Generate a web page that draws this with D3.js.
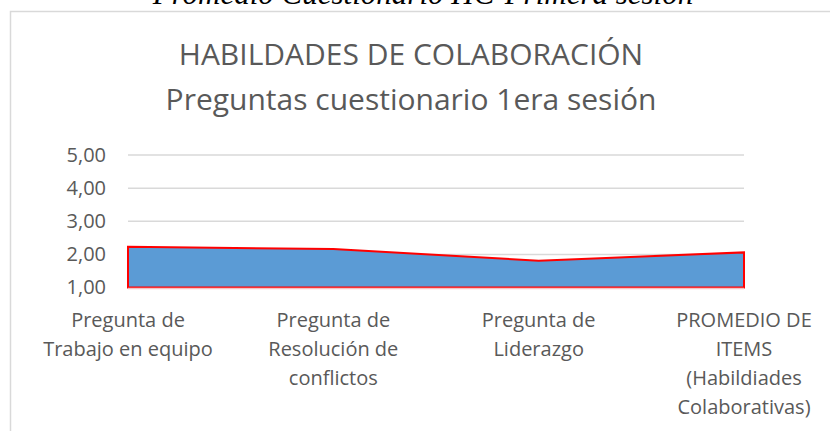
<!DOCTYPE html>
<html>
<head>
<meta charset="utf-8">
<script src="https://cdn.jsdelivr.net/npm/d3@7"></script>
<style>
  body { margin: 0; background: #fff; }
  svg { display: block; }
</style>
</head>
<body>
<svg id="chart" width="830" height="431"></svg>
<script>
// chart data
const categories = [
  ["Pregunta de", "Trabajo en equipo"],
  ["Pregunta de", "Resolución de", "conflictos"],
  ["Pregunta de", "Liderazgo"],
  ["PROMEDIO DE", "ITEMS", "(Habildiades", "Colaborativas)"]
];
const values = [2.23, 2.16, 1.81, 2.06];
const yTicks = [1, 2, 3, 4, 5];
const titleLines = ["HABILDADES DE COLABORACIÓN", "Preguntas cuestionario 1era sesión"];
const caption = "Promedio Cuestionario HC-Primera sesión";

const margin = { top: 155, right: 86, bottom: 143.5, left: 128 };
const W = 830, H = 431;
const width = W - margin.left - margin.right;
const height = H - margin.top - margin.bottom;

const svg = d3.select("#chart");

// caption above the chart frame (cut off at the top)
svg.append("text")
  .attr("x", 423)
  .attr("y", 4)
  .attr("text-anchor", "middle")
  .attr("font-family", "Liberation Serif")
  .attr("font-style", "italic")
  .attr("font-size", 31)
  .attr("fill", "#000")
  .text(caption);

// chart frame
svg.append("rect")
  .attr("x", 10.5)
  .attr("y", 11.5)
  .attr("width", 900)
  .attr("height", 500)
  .attr("fill", "none")
  .attr("stroke", "#d9d9d9")
  .attr("stroke-width", 1.5);

// title
svg.append("text")
  .attr("x", 411)
  .attr("text-anchor", "middle")
  .attr("font-family", "Open Sans")
  .attr("font-size", 30)
  .attr("fill", "#595959")
  .selectAll("tspan")
  .data(titleLines)
  .join("tspan")
  .attr("x", 411)
  .attr("y", (d, i) => 65 + i * 45)
  .text(d => d);

const g = svg.append("g")
  .attr("transform", `translate(${margin.left},${margin.top})`);

const x = d3.scalePoint()
  .domain(d3.range(categories.length))
  .range([0, width]);

const y = d3.scaleLinear()
  .domain([1, 5])
  .range([height, 0]);

// gridlines
g.append("g")
  .selectAll("line")
  .data(yTicks)
  .join("line")
  .attr("x1", 0)
  .attr("x2", width)
  .attr("y1", d => y(d))
  .attr("y2", d => y(d))
  .attr("stroke", "#d9d9d9")
  .attr("stroke-width", 1.5);

// y axis labels
const yAxis = g.append("g")
  .call(d3.axisLeft(y).tickValues(yTicks).tickSize(0).tickPadding(22)
    .tickFormat(d => d3.format(".2f")(d).replace(".", ",")));
yAxis.select(".domain").remove();
yAxis.selectAll("text")
  .attr("font-family", "Open Sans")
  .attr("font-size", 20)
  .attr("fill", "#595959");

// area
const area = d3.area()
  .x((d, i) => x(i))
  .y0(y(1))
  .y1(d => y(d));

g.append("path")
  .datum(values)
  .attr("d", area)
  .attr("fill", "#5b9bd5")
  .attr("stroke", "#ff0000")
  .attr("stroke-width", 2)
  .attr("stroke-linejoin", "miter");

// category axis line
g.append("line")
  .attr("x1", 0)
  .attr("x2", width)
  .attr("y1", y(1) + 1)
  .attr("y2", y(1) + 1)
  .attr("stroke", "#f2c4c4")
  .attr("stroke-width", 1.5);

// x labels
g.append("g")
  .selectAll("text")
  .data(categories)
  .join("text")
  .attr("text-anchor", "middle")
  .attr("font-family", "Open Sans")
  .attr("font-size", 20)
  .attr("fill", "#595959")
  .each(function (lines, i) {
    d3.select(this)
      .selectAll("tspan")
      .data(lines)
      .join("tspan")
      .attr("x", x(i))
      .attr("y", (d, j) => height + 39 + j * 29)
      .text(d => d);
  });
</script>
</body>
</html>
